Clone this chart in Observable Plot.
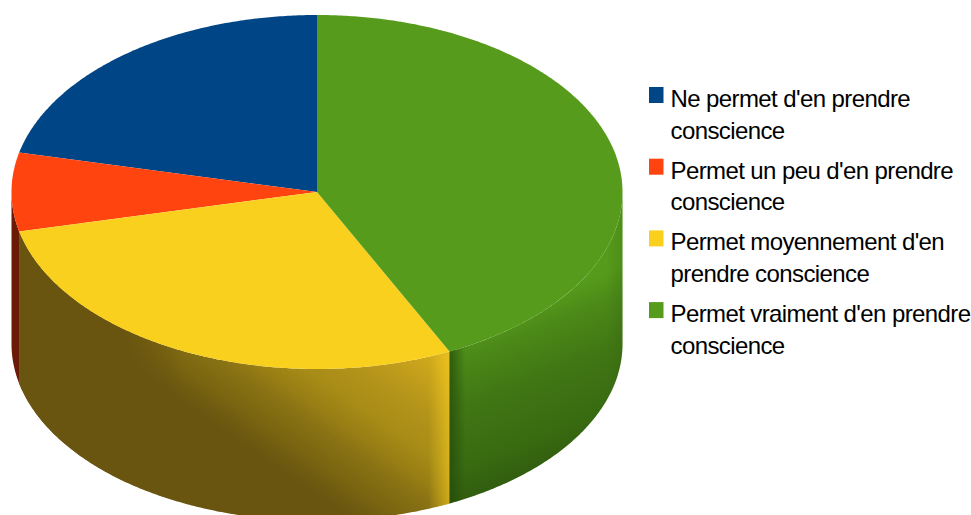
<!DOCTYPE html>
<html>
<head>
<meta charset="utf-8">
<style>
  html, body { margin: 0; padding: 0; background: #fff; overflow: hidden; }
  svg { display: block; }
  svg text { letter-spacing: -0.6px; }
</style>
<script src="https://cdn.jsdelivr.net/npm/d3@7"></script>
<script src="https://cdn.jsdelivr.net/npm/@observablehq/plot@0.6"></script>
</head>
<body>
<script>
// Answers per category
const categories = [
  "Ne permet d'en prendre\nconscience",
  "Permet un peu d'en prendre\nconscience",
  "Permet moyennement d'en\nprendre conscience",
  "Permet vraiment d'en prendre\nconscience"
];
const counts = [3, 1, 4, 6];
const colors = ["#004586", "#ff4410", "#fad01f", "#569b1b"];

// Tilted disc layout, in pixels of the frame
const W = 971, H = 515;
const cx = 316.5, cy = 191.5, rx = 305.5, ry = 177, depth = 152;
const arcStep = Math.PI / 360;

// Slices run counter-clockwise from twelve o'clock
const arcs = d3.pie().sort(null).startAngle(0).endAngle(-2 * Math.PI)(counts);
const px = a => cx + rx * Math.sin(a);
const py = a => cy - ry * Math.cos(a);

function arcAngles(a0, a1) {
  const n = Math.max(2, Math.ceil(Math.abs(a1 - a0) / arcStep));
  return d3.range(n + 1).map(i => a0 + (a1 - a0) * i / n);
}

// Top face of a slice: centre, then the rim
function topFace(arc, i) {
  const rim = arcAngles(arc.startAngle, arc.endAngle).map(a => ({x: px(a), y: py(a)}));
  return [{x: cx, y: cy}, ...rim].map(p => ({...p, category: categories[i]}));
}

// Outer wall of a slice, limited to the half of the rim that faces the viewer
function wall(arc) {
  const lo = Math.max(arc.endAngle, -3 * Math.PI / 2);
  const hi = Math.min(arc.startAngle, -Math.PI / 2);
  if (lo >= hi) return null;
  const rim = arcAngles(lo, hi);
  return [
    ...rim.map(a => ({x: px(a), y: py(a)})),
    ...rim.slice().reverse().map(a => ({x: px(a), y: py(a) + depth}))
  ];
}

const walls = arcs.map(wall);
const lineOpts = {x: "x", y: "y", stroke: "none", curve: "linear"};

// Shading of the walls
function shading() {
  const defs = d3.create("svg:defs");
  const grad = (id, attrs, stops) => {
    const g = defs.append("linearGradient").attr("id", id).attr("gradientUnits", "userSpaceOnUse");
    Object.entries(attrs).forEach(([k, v]) => g.attr(k, v));
    stops.forEach(([o, c, a]) => g.append("stop").attr("offset", o).attr("stop-color", c).attr("stop-opacity", a ?? 1));
  };
  grad("yellowWall", {x1: 130, y1: 372, x2: 238, y2: 216},
    [[0, "#69550f"], [0.04, "#6a560f"], [0.1, "#705c10"], [0.17, "#796411"], [0.25, "#816c12"], [0.33, "#8b7314"],
     [0.41, "#987e14"], [0.54, "#a78c17"], [0.7, "#b3931a"], [0.96, "#cfa81c"], [1, "#d2ab1e"]]);
  grad("yellowLeft", {x1: 122, y1: 0, x2: 185, y2: 0},
    [[0, "#69550f", 1], [1, "#69550f", 0]]);
  grad("yellowEdge", {x1: 428, y1: 0, x2: 449, y2: 0},
    [[0, "#fad01f", 0], [1, "#fad01f", 0.55]]);
  grad("greenWall", {x1: 585, y1: 273.5, x2: 648, y2: 432},
    [[0, "#569b1b"], [0.04, "#569a1b"], [0.19, "#4c8a18"], [0.45, "#417714"],
     [0.8, "#386a11"], [0.93, "#33600f"], [1, "#315d0f"]]);
  grad("greenEdge", {x1: 449, y1: 0, x2: 465, y2: 0},
    [[0, "#234a0a", 0.75], [1, "#234a0a", 0]]);
  grad("greenRight", {x1: 606, y1: 0, x2: 622, y2: 0},
    [[0, "#2c5a0c", 0], [1, "#2c5a0c", 0.2]]);
  return defs.node();
}

const legendX = 649, legendTop = 87, legendStep = 71.7;

const chart = Plot.plot({
  width: W,
  height: H,
  margin: 0,
  x: {domain: [0, W], range: [0, W], axis: null},
  y: {domain: [0, H], range: [0, H], axis: null},
  color: {domain: categories, range: colors},
  style: {background: "#fff"},
  marks: [
    shading,
    Plot.line(walls[1], {...lineOpts, fill: "#6b1a06"}),
    Plot.line(walls[2], {...lineOpts, fill: "url(#yellowWall)"}),
    Plot.line(walls[2], {...lineOpts, fill: "url(#yellowLeft)"}),
    Plot.line(walls[2], {...lineOpts, fill: "url(#yellowEdge)"}),
    Plot.line(walls[3], {...lineOpts, fill: "url(#greenWall)"}),
    Plot.line(walls[3], {...lineOpts, fill: "url(#greenEdge)"}),
    Plot.line(walls[3], {...lineOpts, fill: "url(#greenRight)"}),
    Plot.line(arcs.flatMap(topFace), {...lineOpts, z: "category", fill: "category"}),
    // Legend
    Plot.rect(categories, {
      x1: () => legendX,
      x2: () => legendX + 14.5,
      y1: (d, i) => legendTop + i * legendStep,
      y2: (d, i) => legendTop + i * legendStep + 16,
      fill: d => d
    }),
    Plot.text(categories, {
      x: () => 670,
      y: (d, i) => legendTop - 3 + i * legendStep,
      text: d => d,
      textAnchor: "start",
      lineAnchor: "top",
      lineHeight: 1.32,
      fontSize: 24,
      fontFamily: "Liberation Sans",
      fill: "#000"
    })
  ]
});
document.body.appendChild(chart);
</script>
</body>
</html>
